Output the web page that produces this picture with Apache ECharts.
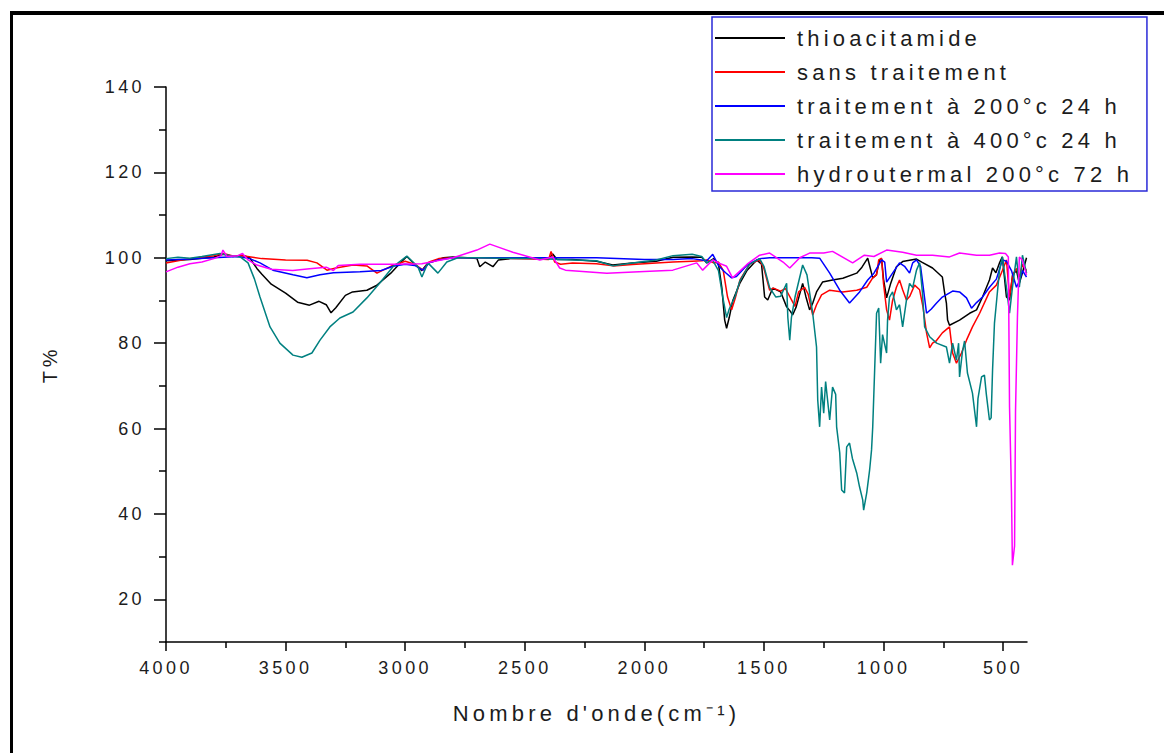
<!DOCTYPE html>
<html>
<head>
<meta charset="utf-8">
<script src="https://cdn.jsdelivr.net/npm/echarts@6/dist/echarts.min.js"></script>
<style>
  html, body { margin: 0; padding: 0; background: #fff; }
  #chart { width: 1164px; height: 753px; }
  /* wide, spaced lettering used throughout the figure */
  #chart text { letter-spacing: 0.19em; }
</style>
</head>
<body>
<div id="chart"></div>
<script>
// FTIR spectra: [wavenumber (cm-1), transmittance (%)]
const thioacitamide = [
  [4000, 99.3], [3900, 99.6], [3800, 100.2], [3760, 100.8], [3720, 100.3], [3680, 100.6], [3650, 100],
  [3620, 97.5], [3600, 96.2], [3560, 93.8], [3500, 91.7], [3450, 89.6], [3400, 88.9], [3360, 89.8],
  [3330, 89.0], [3310, 87.1], [3290, 88.3], [3250, 91.2], [3220, 92.0], [3160, 92.4], [3120, 93.5],
  [3060, 96.4], [3010, 99.4], [2993, 100.3], [2960, 98.5], [2930, 97.0], [2905, 98.8], [2880, 99.2],
  [2840, 100], [2800, 100.2], [2740, 100], [2700, 99.8], [2688, 97.9], [2665, 99.0], [2633, 97.9],
  [2610, 99.5], [2560, 99.8], [2440, 99.8], [2400, 99.7], [2383, 100.9], [2365, 99.6], [2300, 99.6],
  [2200, 99.2], [2132, 98.3], [2050, 98.8], [1950, 99.2], [1880, 100.1], [1800, 100.2], [1760, 100.1],
  [1739, 98.8], [1710, 99.8], [1690, 98.5], [1676, 93], [1664, 85.4], [1656, 83.5], [1645, 86],
  [1630, 90], [1601, 94], [1570, 97.1], [1530, 99.5], [1510, 98.5], [1497, 90.8], [1484, 90.1],
  [1463, 92.9], [1430, 92], [1405, 88.5], [1390, 87.5], [1380, 86.6], [1365, 88.5], [1338, 94],
  [1325, 91], [1309, 87.8], [1295, 89.5], [1280, 92], [1255, 94.3], [1213, 94.8], [1170, 95.2],
  [1112, 96.4], [1090, 97.8], [1066, 99.9], [1045, 95.3], [1030, 96], [1016, 99.5], [1008, 99.7],
  [1000, 95], [987, 90.6], [970, 94], [946, 97.9], [920, 99.1], [862, 99.7], [840, 99], [795, 97.6],
  [754, 95.5], [745, 92], [737, 89.4], [732, 85.4], [724, 84.2], [682, 85.4], [640, 87], [611, 87.8],
  [586, 90.8], [557, 94.8], [544, 97.6], [530, 96.5], [515, 98.8], [503, 100.2], [486, 90.8],
  [473, 90.1], [460, 96], [444, 97], [432, 94], [419, 96.5], [402, 100]
];

const sansTraitement = [
  [4000, 98.8], [3950, 99.3], [3900, 99.8], [3800, 100.5], [3760, 101], [3720, 100.4], [3680, 100.5],
  [3600, 99.8], [3500, 99.5], [3410, 99.4], [3369, 98.8], [3327, 97.1], [3290, 97.6], [3218, 98.3],
  [3160, 98.1], [3118, 96.4], [3060, 98], [3000, 99.2], [2960, 98.5], [2926, 97.1], [2900, 99],
  [2860, 99.8], [2800, 100], [2700, 100], [2600, 99.9], [2450, 99.7], [2400, 99.6], [2390, 101.5],
  [2375, 99], [2350, 98.5], [2300, 98.8], [2200, 98.6], [2130, 98.1], [2050, 98.4], [1950, 98.8],
  [1880, 99], [1800, 99.2], [1760, 99.3], [1739, 99.5], [1710, 98.8], [1690, 99], [1670, 97],
  [1652, 90.8], [1635, 87.8], [1620, 90.5], [1600, 94.8], [1560, 98.5], [1518, 99.5], [1500, 97.5],
  [1476, 92.4], [1460, 92.9], [1430, 92.2], [1410, 92.8], [1384, 90.1], [1370, 88.6], [1355, 92],
  [1330, 93.1], [1315, 91.5], [1296, 86.6], [1280, 89], [1259, 91.3], [1225, 92.4], [1171, 92],
  [1112, 92.4], [1070, 93.1], [1045, 95.3], [1029, 96], [1020, 99.5], [1008, 99.9], [1000, 94],
  [987, 87.8], [975, 85.4], [962, 90], [946, 93.1], [933, 94.8], [920, 92.5], [904, 90.1], [890, 91],
  [870, 93.6], [849, 92.5], [835, 88.5], [820, 82.4], [807, 78.9], [795, 80], [780, 80.5], [754, 82.4],
  [724, 83.8], [711, 77.7], [695, 75.3], [674, 77.7], [653, 80.7], [628, 83.8], [598, 87], [557, 92],
  [528, 93.6], [503, 97], [486, 99.5], [473, 90.8], [460, 96], [444, 97.5], [432, 95.5], [419, 98.5],
  [402, 97]
];

const traitement200 = [
  [4000, 99.5], [3900, 99.7], [3800, 100], [3700, 100.3], [3650, 99.8], [3607, 98.8], [3553, 97.1],
  [3469, 96], [3411, 95.3], [3356, 96], [3300, 96.5], [3189, 96.7], [3100, 97], [3051, 98], [3000, 98.5],
  [2960, 98.2], [2926, 97.1], [2900, 98.8], [2860, 99.5], [2800, 100], [2600, 100], [2400, 100],
  [2200, 100], [2000, 99.6], [1881, 99.6], [1800, 99.8], [1739, 99.3], [1714, 100.8], [1690, 98.2],
  [1670, 97], [1660, 96.5], [1635, 95.3], [1615, 95.6], [1570, 98.3], [1518, 99.8], [1476, 100],
  [1400, 100], [1300, 100], [1267, 99.9], [1225, 96.4], [1183, 92.4], [1142, 89.4], [1100, 92],
  [1066, 94.8], [1040, 96.4], [1008, 99.5], [995, 99], [987, 94.3], [962, 96.4], [933, 98.8],
  [912, 98], [891, 96.4], [878, 98.8], [862, 99.5], [845, 98], [820, 87], [800, 88], [778, 89.4],
  [754, 90.8], [711, 92.2], [682, 92], [653, 90.6], [632, 88.2], [611, 89.5], [586, 90.8], [557, 93.1],
  [528, 95], [503, 99.5], [486, 99.2], [465, 97], [444, 93.1], [432, 94.5], [419, 97], [402, 95.5]
];

const traitement400 = [
  [4000, 99.8], [3950, 100.1], [3900, 99.9], [3850, 100.3], [3774, 101], [3730, 100.5], [3690, 100.2],
  [3657, 98.8], [3630, 95], [3607, 90.8], [3565, 83.8], [3524, 80], [3469, 77.2], [3432, 76.7],
  [3390, 77.7], [3356, 80.7], [3315, 83.8], [3273, 85.9], [3218, 87.3], [3160, 90.6], [3106, 94.1],
  [3051, 97.9], [2993, 100.4], [2947, 97.9], [2930, 95.5], [2905, 98.8], [2863, 96.4], [2826, 99],
  [2780, 100], [2700, 100], [2600, 99.9], [2450, 99.8], [2400, 99.7], [2300, 99.5], [2200, 99.3],
  [2132, 98.1], [2050, 98.8], [1950, 99.5], [1880, 100.5], [1800, 100.8], [1760, 100.3], [1739, 98.8],
  [1715, 99.5], [1690, 97], [1672, 90.8], [1656, 86], [1645, 88], [1620, 91], [1601, 94.5], [1560, 98.5],
  [1518, 99.8], [1500, 98], [1476, 93], [1450, 90.8], [1430, 91], [1405, 94], [1400, 86], [1392, 80.7],
  [1385, 86], [1370, 90.8], [1338, 98.3], [1320, 96], [1296, 87], [1280, 79.1], [1275, 66.7],
  [1267, 60.4], [1259, 69.7], [1250, 63.6], [1242, 71], [1225, 62], [1213, 69.7], [1200, 68],
  [1196, 60.4], [1183, 54.3], [1175, 45.6], [1163, 44.9], [1154, 55.7], [1142, 56.6], [1130, 53],
  [1112, 49.6], [1100, 46.3], [1087, 43.3], [1083, 40.9], [1070, 45], [1058, 50.3], [1050, 55],
  [1045, 60.4], [1037, 73.7], [1029, 87], [1020, 88.2], [1012, 75.3], [1004, 82], [987, 77.7],
  [983, 85.4], [975, 90.8], [962, 92], [946, 87.8], [933, 89], [920, 83.8], [904, 90.1], [891, 94],
  [878, 93], [862, 97.1], [849, 98.8], [837, 91.7], [828, 83.8], [807, 81.5], [778, 80], [737, 79.1],
  [724, 75.3], [711, 80], [695, 76], [686, 80], [682, 72.1], [670, 78], [661, 80.5], [649, 73],
  [628, 68.3], [611, 60.4], [605, 67], [590, 72.1], [578, 72.5], [570, 68], [557, 62], [550, 62.5],
  [544, 73.7], [536, 84.7], [528, 89.4], [515, 97.1], [503, 100.2], [486, 93.1], [473, 87], [461, 93],
  [444, 100.2], [432, 93.1], [419, 100.6], [402, 96.4]
];

const hydrothermal = [
  [4000, 96.7], [3950, 97.8], [3900, 98.6], [3850, 99], [3800, 99.8], [3770, 100.5], [3762, 101.8],
  [3745, 100.3], [3700, 100.5], [3680, 101], [3657, 99.5], [3620, 98.3], [3560, 97.3], [3470, 97],
  [3400, 97.4], [3330, 97.8], [3300, 97], [3280, 98.2], [3189, 98.5], [3050, 98.5], [2930, 98.6],
  [2850, 99.5], [2800, 100], [2700, 101.8], [2646, 103.2], [2550, 101.3], [2437, 99.5], [2383, 100.2],
  [2354, 97.6], [2330, 97.1], [2157, 96.4], [2000, 96.8], [1881, 97.1], [1781, 98.8], [1756, 97.1],
  [1714, 99.5], [1690, 98.8], [1656, 98], [1631, 95.3], [1570, 98.5], [1518, 100.6], [1476, 101.1],
  [1420, 99], [1392, 97.6], [1350, 100], [1309, 101.1], [1250, 101.1], [1213, 101.5], [1129, 98.8],
  [1080, 100.6], [1040, 100.3], [987, 101.8], [920, 101.3], [862, 100.6], [795, 100.6], [724, 100.2],
  [682, 101.1], [611, 100.6], [557, 100.6], [515, 101.1], [490, 101], [478, 100.2], [473, 65],
  [465, 45], [461, 28], [452, 32.5], [448, 64], [440, 86.1], [432, 100.2], [420, 99.5], [402, 96]
];

const seriesNames = [
  'thioacitamide',
  'sans traitement',
  'traitement à 200°c 24 h',
  'traitement à 400°c 24 h',
  'hydroutermal 200°c 72 h'
];
const seriesColors = ['#000000', '#ff0000', '#0000ff', '#008080', '#ff00ff'];
const seriesData = [thioacitamide, sansTraitement, traitement200, traitement400, hydrothermal];

// axis ticks
const xMajorTicks = [500, 1000, 1500, 2000, 2500, 3000, 3500, 4000];
const xMinorTicks = [750, 1250, 1750, 2250, 2750, 3250, 3750];
const yMajorTicks = [20, 40, 60, 80, 100, 120, 140];
const yMinorTicks = [10, 30, 50, 70, 90, 110, 130];

const FONT = "'Liberation Sans', Arial, sans-serif";
const INK = '#1c1c1c';
const gridBox = { left: 166, right: 137, top: 87, bottom: 111 };
const axisLine = { show: true, onZero: false, lineStyle: { color: '#000', width: 1.5 } };
const tickStyle = { color: '#000', width: 1.5 };
const plainNumber = (v) => String(v);

const chart = echarts.init(document.getElementById('chart'), null, { renderer: 'svg' });

chart.setOption({
  backgroundColor: '#ffffff',
  animation: false,
  graphic: [
    { type: 'rect', silent: true, shape: { x: 10, y: 11, width: 1154, height: 4 }, style: { fill: '#000' } },
    { type: 'rect', silent: true, shape: { x: 10, y: 11, width: 3, height: 742 }, style: { fill: '#000' } }
  ],
  legend: {
    orient: 'vertical',
    left: 712,
    top: 17,
    padding: [10, 110, 6, 3],
    icon: 'rect',
    itemWidth: 70,
    itemHeight: 2,
    itemGap: 12,
    borderColor: '#2a2ad8',
    borderWidth: 1.5,
    backgroundColor: '#ffffff',
    textStyle: { fontFamily: FONT, fontSize: 22, color: INK, lineHeight: 22, padding: [0, 0, 0, 7] },
    data: seriesNames
  },
  grid: [
    Object.assign({}, gridBox),
    Object.assign({}, gridBox)
  ],
  xAxis: [
    {
      gridIndex: 0, type: 'value', inverse: true, min: 400, max: 4000,
      name: "Nombre d'onde(cm⁻¹)", nameLocation: 'middle', nameGap: 60,
      nameTextStyle: { fontFamily: FONT, fontSize: 22, color: INK },
      axisLine: axisLine,
      axisTick: { show: true, inside: false, length: 9, customValues: xMajorTicks, lineStyle: tickStyle },
      axisLabel: { customValues: xMajorTicks, formatter: plainNumber, margin: 17, fontFamily: FONT, fontSize: 18, color: INK },
      splitLine: { show: false }
    },
    {
      gridIndex: 1, type: 'value', inverse: true, min: 400, max: 4000,
      axisLine: { show: false },
      axisTick: { show: true, inside: false, length: 6, customValues: xMinorTicks, lineStyle: tickStyle },
      axisLabel: { show: false },
      splitLine: { show: false }
    }
  ],
  yAxis: [
    {
      gridIndex: 0, type: 'value', min: 10, max: 140,
      name: 'T%', nameLocation: 'middle', nameGap: 106, nameRotate: 90,
      nameTextStyle: { fontFamily: FONT, fontSize: 20, color: INK },
      axisLine: axisLine,
      axisTick: { show: true, inside: false, length: 12, customValues: yMajorTicks, lineStyle: tickStyle },
      axisLabel: { customValues: yMajorTicks, formatter: plainNumber, margin: 21, fontFamily: FONT, fontSize: 18, color: INK },
      splitLine: { show: false }
    },
    {
      gridIndex: 1, type: 'value', min: 10, max: 140,
      axisLine: { show: false },
      axisTick: { show: true, inside: false, length: 7, customValues: yMinorTicks, lineStyle: tickStyle },
      axisLabel: { show: false },
      splitLine: { show: false }
    }
  ],
  series: seriesNames.map((name, i) => ({
    name: name,
    type: 'line',
    xAxisIndex: 0,
    yAxisIndex: 0,
    data: seriesData[i],
    symbol: 'none',
    showSymbol: false,
    smooth: false,
    color: seriesColors[i],
    lineStyle: { color: seriesColors[i], width: 1.5 },
    emphasis: { disabled: true }
  }))
});
</script>
</body>
</html>
